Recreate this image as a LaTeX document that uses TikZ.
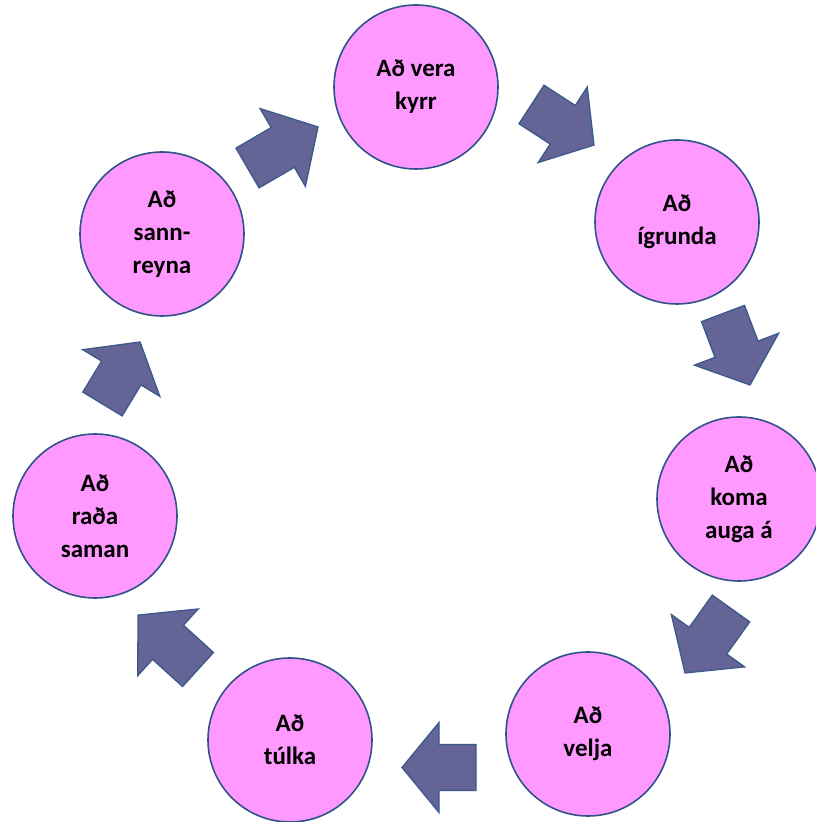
\documentclass[tikz,border=0pt]{standalone}
\usepackage{fontspec}
\setmainfont{Carlito}
\definecolor{circfill}{HTML}{FF99FF}
\definecolor{circline}{HTML}{2F5287}
\definecolor{arrfill}{HTML}{646496}
\definecolor{arrline}{HTML}{3A5A8C}
\tikzset{
  stage/.style={circle, draw=circline, line width=1.6pt, fill=circfill,
    minimum size=164pt, inner sep=0pt, align=center, text=black,
    font=\fontsize{25}{33}\selectfont\bfseries},
  flowarrow/.style={draw=arrline, line width=1.3pt, fill=arrfill, line join=miter}
}
% #1 tail centre, #2 direction angle, #3 total length
\newcommand\blkarr[3]{%
  \draw[flowarrow, shift={(#1)}, rotate=#2]
    (0,-23) -- ({#3/2},-23) -- ({#3/2},-45) -- (#3,0) -- ({#3/2},45) -- ({#3/2},23) -- (0,23) -- cycle;}
\begin{document}
\begin{tikzpicture}[x=1pt,y=1pt]
\fill[white] (0,0) rectangle (816,822);
\useasboundingbox (0,0) rectangle (816,822);

\node[stage] (c1) at (416,735) {Að vera\\kyrr};
\node[stage] (c2) at (677,600) {Að\\ígrunda};
\node[stage] (c3) at (739,323) {Að\\koma\\auga á};
\node[stage] (c4) at (588,88) {Að\\velja};
\node[stage] (c5) at (290,82) {Að\\túlka};
\node[stage] (c6) at (95,306) {Að\\raða\\saman};
\node[stage] (c7) at (162,588) {Að\\sann-\\reyna};

\blkarr{247.5,654}{30.2}{81.6}
\blkarr{531.5,717.5}{-33}{74.5}
\blkarr{723,508.5}{-69.3}{76.4}
\blkarr{731,213.5}{-125.5}{79.2}
\blkarr{476,54.5}{180}{74}
\blkarr{198,152.5}{137.8}{81}
\blkarr{102.5,418}{58.8}{72.5}
\end{tikzpicture}
\end{document}
